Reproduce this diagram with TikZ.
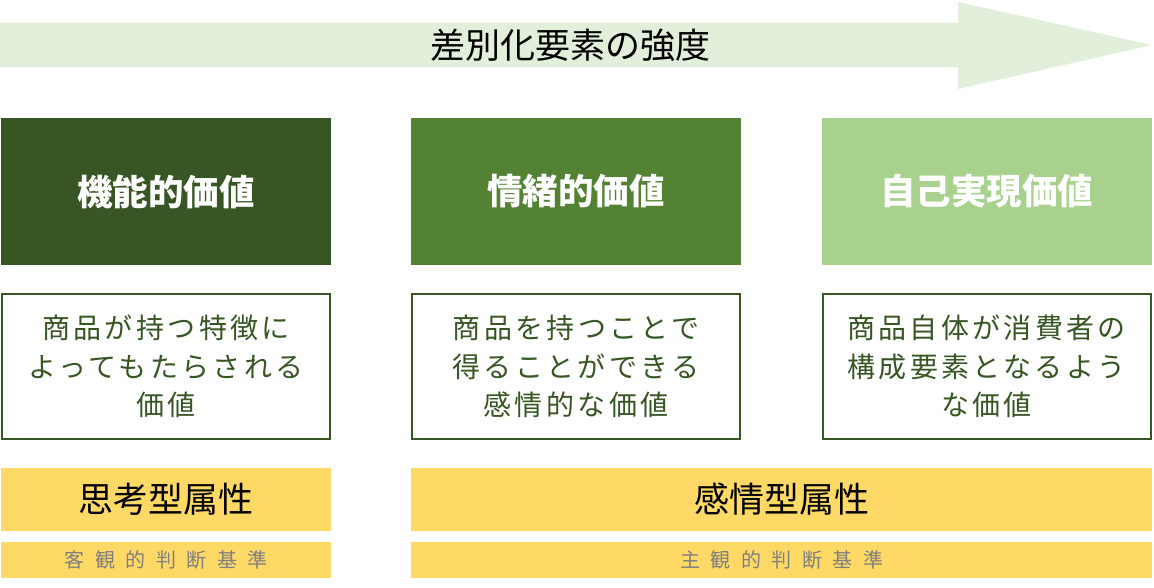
\documentclass[tikz,border=0pt]{standalone}
\usepackage{fontspec}
\setmainfont{Noto Sans CJK JP}
\definecolor{arrowg}{HTML}{E2EFDA}
\definecolor{g1}{HTML}{375623}
\definecolor{g2}{HTML}{548235}
\definecolor{g3}{HTML}{A9D18E}
\definecolor{yel}{HTML}{FFD966}
\definecolor{gry}{HTML}{7F7F7F}
\tikzset{
  titlebox/.style={fill=#1, draw=none, minimum width=330pt, minimum height=147pt, inner sep=0pt,
    text=white, font=\fontsize{35.5}{38}\selectfont\bfseries},
  descbox/.style={fill=white, draw=g1, line width=2pt, minimum width=328pt, minimum height=145pt,
    inner sep=0pt, text=g1, align=center, font=\fontsize{28}{38.5}\selectfont\addfontfeature{LetterSpace=12}},
  attrbox/.style={fill=yel, draw=none, minimum height=63pt, inner sep=0pt, text=black,
    font=\fontsize{35}{38}\selectfont},
  basebox/.style={fill=yel, draw=none, minimum height=36pt, inner sep=0pt, text=gry,
    font=\fontsize{20}{22}\selectfont},
}
\newcommand{\lsp}{\hspace{10.5pt}}
\begin{document}
\begin{tikzpicture}[x=1pt,y=-1pt]
\useasboundingbox (0,0) rectangle (1154,588);
% arrow
\fill[arrowg] (0,23) -- (958,23) -- (958,2) -- (1152,45) -- (958,89) -- (958,67) -- (0,67) -- cycle;
\node[font=\fontsize{35}{38}\selectfont, text=black] (arrowtext) at (570,45) {差別化要素の強度};
% title boxes
\node[titlebox=g1] (t1) at (166,191.5) {機能的価値};
\node[titlebox=g2] (t2) at (576,191.5) {情緒的価値};
\node[titlebox=g3] (t3) at (986.5,191.5) {自己実現価値};
% description boxes
\node[descbox] (d1) at (166,366.5) {商品が持つ特徴に\\よってもたらされる\\価値};
\node[descbox] (d2) at (576,366.5) {商品を持つことで\\得ることができる\\感情的な価値};
\node[descbox] (d3) at (986.5,366.5) {商品自体が消費者の\\構成要素となるよう\\な価値};
% attribute bars
\node[attrbox, minimum width=330pt] (a1) at (166,499.5) {思考型属性};
\node[attrbox, minimum width=741pt] (a2) at (781.5,499.5) {感情型属性};
\node[basebox, minimum width=330pt] (b1) at (166,560) {客\lsp 観\lsp 的\lsp 判\lsp 断\lsp 基\lsp 準};
\node[basebox, minimum width=741pt] (b2) at (781.5,560) {主\lsp 観\lsp 的\lsp 判\lsp 断\lsp 基\lsp 準};
\end{tikzpicture}
\end{document}
